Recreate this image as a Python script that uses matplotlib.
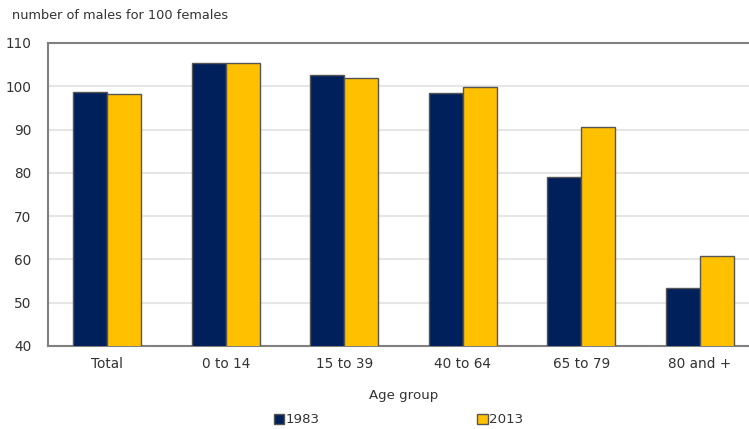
import matplotlib
matplotlib.use("Agg")
import matplotlib.pyplot as plt
import numpy as np

categories = ["Total", "0 to 14", "15 to 39", "40 to 64", "65 to 79", "80 and +"]
series_1983 = [98.7, 105.4, 102.5, 98.4, 79.1, 53.5]
series_2013 = [98.3, 105.4, 101.9, 99.8, 90.5, 60.9]
yticks = [40, 50, 60, 70, 80, 90, 100, 110]

navy = "#00205B"
gold = "#FFC000"
edge = "#555555"

plt.rcParams['font.family'] = ['DejaVu Sans']
fig = plt.figure(figsize=(7.49, 4.29), dpi=100)
ax = fig.add_axes([0.0641, 0.1935, 1.0134 - 0.0641, 0.8998 - 0.1935])

x = np.arange(len(categories))
w = 0.287
ax.bar(x - w / 2, series_1983, width=w, color=navy, edgecolor=edge, linewidth=1.0, label="1983", zorder=3)
ax.bar(x + w / 2, series_2013, width=w, color=gold, edgecolor=edge, linewidth=1.0, label="2013", zorder=3)

ax.set_xlim(-0.5, 5.5)
ax.set_ylim(40, 110)
ax.set_yticks(yticks)
ax.set_xticks(x)
ax.set_xticklabels(categories)
ax.tick_params(axis='both', length=0, labelsize=9.8, colors="#333333")
ax.tick_params(axis='x', pad=8)
ax.tick_params(axis='y', pad=12)
ax.yaxis.grid(True, color="#e6e6e6", linewidth=1.5, zorder=0)
ax.set_axisbelow(True)
for s in ["left", "bottom", "top"]:
    ax.spines[s].set_color("#808080")
    ax.spines[s].set_linewidth(1.5)
ax.spines["right"].set_visible(False)

ax.set_xlabel("Age group", fontsize=9.6, color="#333333", labelpad=13)
fig.text(0.016, 0.965, "number of males for 100 females", fontsize=9.3, color="#333333", va="center", ha="left")

fig.legend(loc="center", bbox_to_anchor=(0.532, 0.021), ncol=2, frameon=False,
           fontsize=9.6, handlelength=0.8, handleheight=0.8, handletextpad=0.1,
           columnspacing=11.8, labelcolor="#333333")

fig.savefig("out.png", dpi=100)
